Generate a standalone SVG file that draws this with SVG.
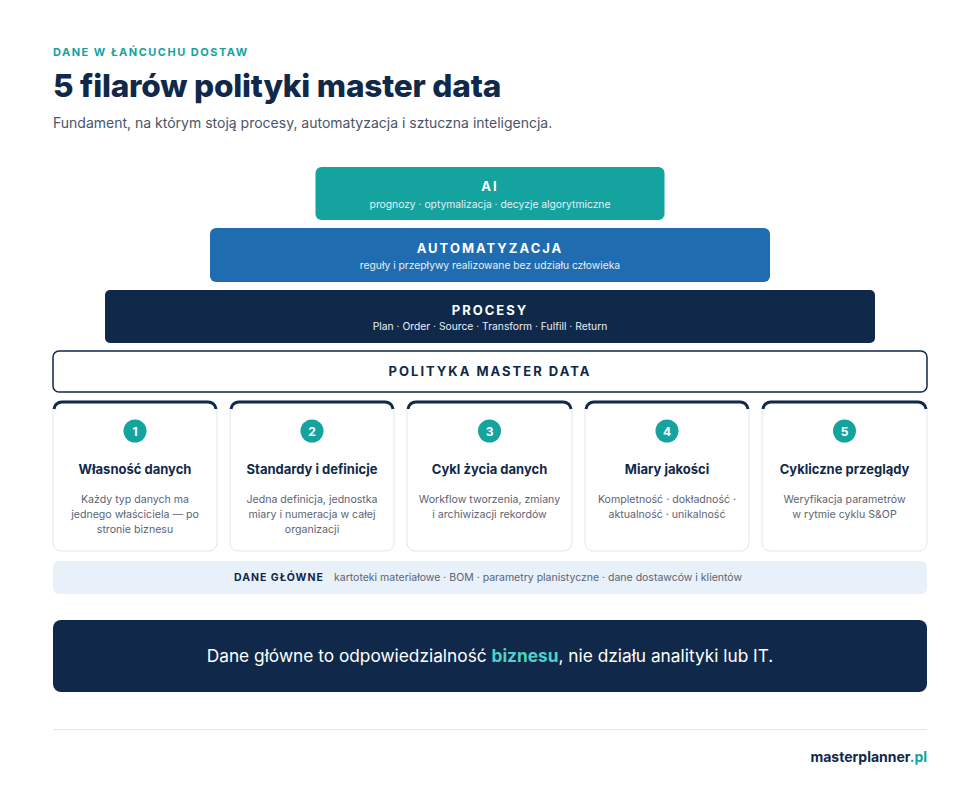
<svg xmlns="http://www.w3.org/2000/svg" width="980" height="789" viewBox="0 0 980 789">
<style>
text{font-family:Inter,"Noto Sans",sans-serif}
.c{text-anchor:middle}
.card{fill:#fff;stroke:#e1e6ee;stroke-width:1}
.top{fill:none;stroke:#10294a;stroke-width:3}
.num{fill:#14a39e}
.nt{fill:#fff;font-size:12px;font-weight:700}
.ti{fill:#10294a;font-size:13px;font-weight:700}
.d{fill:#5b6475;font-size:10.600px}
.lt{fill:#fff;font-size:13px;font-weight:700;letter-spacing:2px}
.ls{fill:#e6eef7;font-size:10.300px}
</style>
<rect width="980" height="789" fill="#fff"/>
<text x="53" y="56" font-size="11" font-weight="700" fill="#14a39e" letter-spacing="1.5">DANE W ŁAŃCUCHU DOSTAW</text>
<text x="53" y="97" font-size="31.600" font-weight="800" fill="#10294a" letter-spacing="-0.2">5 filarów polityki master data</text>
<text x="53" y="128" font-size="14" fill="#4a5568">Fundament, na którym stoją procesy, automatyzacja i sztuczna inteligencja.</text>
<g id="ai"><rect x="315.500" y="167" width="349" height="53" rx="6" fill="#14a39e"/>
<text x="490" y="191" class="c lt">AI</text><text x="490" y="208" class="c ls">prognozy · optymalizacja · decyzje algorytmiczne</text></g>
<g id="auto"><rect x="210" y="228" width="560" height="54" rx="6" fill="#206cb0"/>
<text x="490" y="253" class="c lt">AUTOMATYZACJA</text><text x="490" y="269" class="c ls">reguły i przepływy realizowane bez udziału człowieka</text></g>
<g id="proc"><rect x="105" y="290" width="770" height="53" rx="5" fill="#10294a"/>
<text x="490" y="315" class="c lt">PROCESY</text><text x="490" y="330" class="c ls">Plan · Order · Source · Transform · Fulfill · Return</text></g>
<g id="pol"><rect x="53" y="351" width="874" height="41" rx="6" fill="#fff" stroke="#10294a" stroke-width="1.5"/>
<text x="490" y="376" class="c" font-size="13" font-weight="700" fill="#10294a" letter-spacing="2">POLITYKA MASTER DATA</text></g>
<g id="p1"><rect x="53" y="401" width="164" height="150" rx="8" class="card"/><path d="M54 409 A8 8 0 0 1 62 402 H208 A8 8 0 0 1 216 409" class="top"/>
<circle cx="135" cy="431" r="11.500" class="num"/><text x="135" y="435.500" class="c nt">1</text>
<text x="135" y="474" class="c ti">Własność danych</text>
<text x="135" y="503" class="c d">Każdy typ danych ma</text><text x="135" y="518" class="c d">jednego właściciela — po</text><text x="135" y="533" class="c d">stronie biznesu</text></g>
<g id="p2"><rect x="230" y="401" width="164" height="150" rx="8" class="card"/><path d="M231 409 A8 8 0 0 1 239 402 H385 A8 8 0 0 1 393 409" class="top"/>
<circle cx="312" cy="431" r="11.500" class="num"/><text x="312" y="435.500" class="c nt">2</text>
<text x="312" y="474" class="c ti">Standardy i definicje</text>
<text x="312" y="503" class="c d">Jedna definicja, jednostka</text><text x="312" y="518" class="c d">miary i numeracja w całej</text><text x="312" y="533" class="c d">organizacji</text></g>
<g id="p3"><rect x="407" y="401" width="165" height="150" rx="8" class="card"/><path d="M408 409 A8 8 0 0 1 416 402 H563 A8 8 0 0 1 571 409" class="top"/>
<circle cx="489.500" cy="431" r="11.500" class="num"/><text x="489.500" y="435.500" class="c nt">3</text>
<text x="489.500" y="474" class="c ti">Cykl życia danych</text>
<text x="489.500" y="503" class="c d">Workflow tworzenia, zmiany</text><text x="489.500" y="518" class="c d">i archiwizacji rekordów</text></g>
<g id="p4"><rect x="585" y="401" width="164" height="150" rx="8" class="card"/><path d="M586 409 A8 8 0 0 1 594 402 H740 A8 8 0 0 1 748 409" class="top"/>
<circle cx="667" cy="431" r="11.500" class="num"/><text x="667" y="435.500" class="c nt">4</text>
<text x="667" y="474" class="c ti">Miary jakości</text>
<text x="667" y="503" class="c d">Kompletność · dokładność ·</text><text x="667" y="518" class="c d">aktualność · unikalność</text></g>
<g id="p5"><rect x="762" y="401" width="165" height="150" rx="8" class="card"/><path d="M763 409 A8 8 0 0 1 771 402 H918 A8 8 0 0 1 926 409" class="top"/>
<circle cx="844.500" cy="431" r="11.500" class="num"/><text x="844.500" y="435.500" class="c nt">5</text>
<text x="844.500" y="474" class="c ti">Cykliczne przeglądy</text>
<text x="844.500" y="503" class="c d">Weryfikacja parametrów</text><text x="844.500" y="518" class="c d">w rytmie cyklu S&amp;OP</text></g>
<g id="band"><rect x="53" y="561" width="874" height="33" rx="6" fill="#e8f0f9"/>
<text x="234" y="581" font-size="10.500" font-weight="700" fill="#10294a" letter-spacing="1">DANE GŁÓWNE</text>
<text x="334" y="581" font-size="10.500" fill="#5b6475">kartoteki materiałowe · BOM · parametry planistyczne · dane dostawców i klientów</text></g>
<g id="banner"><rect x="53" y="620" width="874" height="72" rx="8" fill="#10294a"/>
<text x="490" y="662" class="c" font-size="17.300" fill="#fff">Dane główne to odpowiedzialność <tspan fill="#4fd1c5" font-weight="700">biznesu</tspan>, nie działu analityki lub IT.</text></g>
<g id="connectors"/>
<line x1="53" y1="729.500" x2="927" y2="729.500" stroke="#e1e6ee"/>
<text x="927" y="762" text-anchor="end" font-size="14" font-weight="700" fill="#10294a">masterplanner<tspan fill="#14a39e">.pl</tspan></text>
</svg>
